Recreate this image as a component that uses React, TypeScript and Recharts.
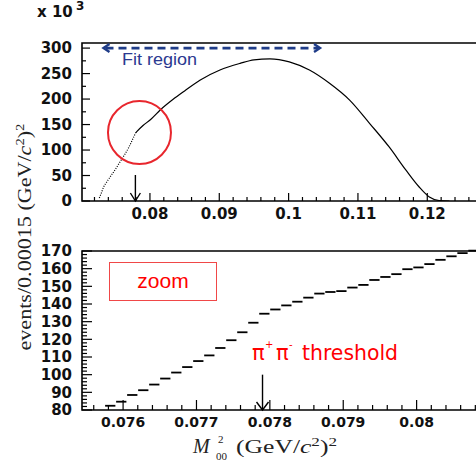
import React from 'react';
import {
  ComposedChart,
  Line,
  Scatter,
  ErrorBar,
  XAxis,
  YAxis,
  ReferenceArea,
  ReferenceLine,
  ReferenceDot,
} from 'recharts';

// upper panel: full spectrum, counts in units of 10^3
const belowThresholdX = [0.0727, 0.073, 0.0733, 0.0738, 0.0743, 0.075, 0.0757, 0.0763, 0.0769, 0.0774, 0.0779];
const belowThresholdY = [6, 16, 27, 38, 48, 62, 77, 90, 104, 118, 133];

const aboveThresholdX = [
  0.0779, 0.0781, 0.079, 0.0801, 0.0816, 0.0833, 0.085, 0.0872, 0.0901, 0.093, 0.095, 0.0973,
  0.1001, 0.103, 0.1059, 0.1088, 0.1117, 0.1145, 0.1169, 0.1188, 0.1203, 0.1217, 0.1232,
];
const aboveThresholdY = [
  133, 136, 148, 160, 180, 199, 216, 237, 257, 270, 277, 279,
  273, 257, 231, 198, 152, 106, 61, 28, 8, 1, 0,
];

// lower panel: zoomed histogram bins
const zoomBinCenters = [
  0.075825, 0.075975, 0.076125, 0.076275, 0.076425, 0.076575, 0.076725, 0.076875, 0.077025,
  0.077175, 0.077325, 0.077475, 0.077625, 0.077775, 0.077925, 0.078075, 0.078225, 0.078375,
  0.078525, 0.078675, 0.078825, 0.078975, 0.079125, 0.079275, 0.079425, 0.079575, 0.079725,
  0.079875, 0.080025, 0.080175, 0.080325, 0.080475, 0.080625, 0.080775,
];
const zoomCounts = [
  82.4, 84.7, 88.5, 91.2, 94.4, 97.8, 101.2, 104.3, 107.7,
  110.9, 115.1, 119.5, 124.0, 129.4, 134.5, 136.9, 139.2, 141.3,
  143.6, 145.9, 146.8, 147.3, 149.3, 150.8, 153.6, 155.3, 156.9,
  159.7, 160.7, 162.6, 165.0, 167.0, 168.8, 170.2,
];
const BIN_HALF = 0.00007;

const THRESHOLD = 0.0779;

const topXMajor = [0.08, 0.09, 0.1, 0.11, 0.12];
const topYMajor = [0, 50, 100, 150, 200, 250, 300];
const bottomXMajor = [0.076, 0.077, 0.078, 0.079, 0.08];
const bottomYMajor = [80, 90, 100, 110, 120, 130, 140, 150, 160, 170];

const steps = (from: number, to: number, step: number) => {
  const out: number[] = [];
  for (let i = 0; from + i * step <= to + step / 1000; i++) out.push(+(from + i * step).toFixed(6));
  return out;
};
const topXTicks = steps(0.072, 0.128, 0.002);
const topYTicks = steps(0, 300, 25);
const bottomXTicks = steps(0.0756, 0.0808, 0.0002);
const bottomYTicks = steps(80, 170, 2);

const belowData = belowThresholdX.map((x, i) => ({ x, y: belowThresholdY[i] }));
const aboveData = aboveThresholdX.map((x, i) => ({ x, y: aboveThresholdY[i] }));
const zoomData = zoomBinCenters.map((x, i) => ({ x, y: zoomCounts[i], ex: BIN_HALF }));

const LABEL_FONT = '"DejaVu Sans", Arial, sans-serif';

const isMajor = (majors: number[], v: number) => majors.some((m) => Math.abs(m - v) < 1e-9);

const xTick = (majors: number[], majorLen: number, minorLen: number, fontSize: number) => (props: any) => {
  const { x, y, payload } = props;
  const major = isMajor(majors, payload.value);
  return (
    <g>
      <line x1={x} x2={x} y1={y} y2={y - (major ? majorLen : minorLen)} stroke="#000" strokeWidth={1.2} />
      {major && (
        <text x={x} y={y + 7 + fontSize * 0.73} textAnchor="middle" fontFamily={LABEL_FONT} fontWeight="bold" fontSize={fontSize} fill="#111">
          {String(payload.value)}
        </text>
      )}
    </g>
  );
};

const yTick = (majors: number[], majorLen: number, minorLen: number, fontSize: number) => (props: any) => {
  const { x, y, payload } = props;
  const major = isMajor(majors, payload.value);
  return (
    <g>
      <line x1={x} x2={x + (major ? majorLen : minorLen)} y1={y} y2={y} stroke="#000" strokeWidth={1.2} />
      {major && (
        <text x={x - 10} y={y + fontSize * 0.36} textAnchor="end" fontFamily={LABEL_FONT} fontWeight="bold" fontSize={fontSize} fill="#111">
          {String(payload.value)}
        </text>
      )}
    </g>
  );
};

const downArrow = (color: string, half: number, head: number) => (p: any) => (
  <g>
    <line x1={p.x1} y1={p.y1} x2={p.x2} y2={p.y2} stroke={color} strokeWidth={1.4} />
    <polyline
      points={`${p.x2 - half},${p.y2 - head} ${p.x2},${p.y2} ${p.x2 + half},${p.y2 - head}`}
      fill="none"
      stroke={color}
      strokeWidth={1.4}
    />
  </g>
);

const fitArrow = (p: any) => {
  const c = '#1f3c88';
  return (
    <g>
      <line x1={p.x1 + 2} y1={p.y1} x2={p.x2 - 2} y2={p.y2} stroke={c} strokeWidth={2.6} strokeDasharray="8 5" />
      <polyline points={`${p.x1 + 6},${p.y1 - 4} ${p.x1},${p.y1} ${p.x1 + 6},${p.y1 + 4}`} fill="none" stroke={c} strokeWidth={2.4} />
      <polyline points={`${p.x2 - 6},${p.y2 - 4} ${p.x2},${p.y2} ${p.x2 - 6},${p.y2 + 4}`} fill="none" stroke={c} strokeWidth={2.4} />
    </g>
  );
};

function TopPanel() {
  return (
    <ComposedChart width={498} height={231} margin={{ top: 43, right: 0, bottom: 0, left: 0 }}>
      <XAxis
        type="number"
        dataKey="x"
        domain={[0.0702, 0.1302]}
        allowDataOverflow
        ticks={topXTicks}
        interval={0}
        tickSize={0}
        tickMargin={0}
        tickLine={false}
        axisLine={false}
        height={30}
        tick={xTick(topXMajor, 8, 4, 15)}
      />
      <YAxis
        type="number"
        domain={[0, 310]}
        allowDataOverflow
        ticks={topYTicks}
        interval={0}
        tickSize={0}
        tickMargin={0}
        tickLine={false}
        axisLine={false}
        width={82}
        tick={yTick(topYMajor, 8, 4, 15)}
      />
      <ReferenceArea x1={0.0702} x2={0.1302} y1={0} y2={310} fill="none" stroke="#000" strokeWidth={1.6} />
      <Line data={belowData} dataKey="y" type="monotone" dot={false} stroke="#000" strokeWidth={1.2} strokeDasharray="1 1.4" isAnimationActive={false} />
      <Line data={aboveData} dataKey="y" type="monotone" dot={false} stroke="#000" strokeWidth={1.2} isAnimationActive={false} />
      <ReferenceLine segment={[{ x: 0.0733, y: 300 }, { x: 0.10453, y: 300 }]} shape={fitArrow} />
      <ReferenceLine segment={[{ x: THRESHOLD, y: 51 }, { x: THRESHOLD, y: 0 }]} shape={downArrow('#000', 5, 8)} />
      <ReferenceDot x={0.07849} y={134.4} r={31.5} fill="none" stroke="#e8262d" strokeWidth={2} />
    </ComposedChart>
  );
}

function BottomPanel() {
  return (
    <ComposedChart width={490} height={470} margin={{ top: 251, right: 0, bottom: 20, left: 0 }}>
      <XAxis
        type="number"
        dataKey="x"
        domain={[0.07544, 0.081]}
        allowDataOverflow
        ticks={bottomXTicks}
        interval={0}
        tickSize={0}
        tickMargin={0}
        tickLine={false}
        axisLine={false}
        height={40}
        tick={xTick(bottomXMajor, 10, 5, 14)}
      />
      <YAxis
        type="number"
        dataKey="y"
        domain={[80, 170]}
        allowDataOverflow
        ticks={bottomYTicks}
        interval={0}
        tickSize={0}
        tickMargin={0}
        tickLine={false}
        axisLine={false}
        width={82}
        tick={yTick(bottomYMajor, 10, 5, 15)}
      />
      <ReferenceArea x1={0.07544} x2={0.081} y1={80} y2={170} fill="none" stroke="#000" strokeWidth={1.6} />
      <Scatter data={zoomData} dataKey="y" shape={() => <g />} isAnimationActive={false}>
        <ErrorBar dataKey="ex" direction="x" width={0} stroke="#000" strokeWidth={1.8} />
      </Scatter>
      <ReferenceLine segment={[{ x: THRESHOLD, y: 100 }, { x: THRESHOLD, y: 80 }]} shape={downArrow('#000', 6, 8)} />
    </ComposedChart>
  );
}

export default function App() {
  return (
    <div style={{ position: 'fixed', left: 0, top: 0, width: 476, height: 470, overflow: 'hidden', background: '#fff' }}>
      <div style={{ position: 'absolute', left: 0, top: 0 }}>
        <TopPanel />
      </div>
      <div style={{ position: 'absolute', left: 0, top: 0 }}>
        <BottomPanel />
      </div>
      <svg width={476} height={470} style={{ position: 'absolute', left: 0, top: 0, pointerEvents: 'none' }}>
        <text x={37} y={17} fontFamily={LABEL_FONT} fontWeight="bold" fontSize={15} fill="#111">x 10</text>
        <text x={76} y={10} fontFamily={LABEL_FONT} fontWeight="bold" fontSize={12} fill="#111">3</text>

        <text x={122} y={64.5} fontFamily='"Liberation Sans", Arial, sans-serif' fontSize={17} fill="#2b3990" textLength={75} lengthAdjust="spacingAndGlyphs">
          Fit region
        </text>

        <rect x={109.5} y={262.5} width={107} height={38} fill="none" stroke="#f04848" strokeWidth={1} />
        <text x={163} y={288} textAnchor="middle" fontFamily='"Liberation Sans", Arial, sans-serif' fontSize={21} fill="#ff0000">zoom</text>

        <g fill="#ff0000" fontFamily='"DejaVu Sans", sans-serif'>
          <text x={252} y={360} fontSize={21}>π</text>
          <text x={265} y={348} fontSize={10}>+</text>
          <text x={276} y={360} fontSize={21}>π</text>
          <text x={289} y={348} fontSize={10}>-</text>
          <text x={302} y={360} fontSize={22} textLength={96} lengthAdjust="spacingAndGlyphs">threshold</text>
        </g>

        <text
          transform="translate(31,237) rotate(-90)"
          textAnchor="middle"
          fontFamily='"Liberation Serif", "DejaVu Serif", serif'
          fontSize={18}
          fill="#222"
          textLength={227}
          lengthAdjust="spacingAndGlyphs"
        >
          events/0.00015 (GeV/<tspan fontStyle="italic">c</tspan>
          <tspan fontSize={12} dy={-7}>2</tspan>
          <tspan dy={7}>)</tspan>
          <tspan fontSize={12} dy={-7}>2</tspan>
        </text>

        <g fontFamily='"Liberation Serif", "DejaVu Serif", serif' fill="#222">
          <text x={193} y={453} fontSize={20} fontStyle="italic">M</text>
          <text x={218} y={443} fontSize={11}>2</text>
          <text x={216} y={460} fontSize={11}>00</text>
          <text x={236} y={453} fontSize={18} textLength={101} lengthAdjust="spacingAndGlyphs">
            (GeV/<tspan fontStyle="italic">c</tspan>
            <tspan fontSize={12} dy={-7}>2</tspan>
            <tspan dy={7}>)</tspan>
            <tspan fontSize={12} dy={-7}>2</tspan>
          </text>
        </g>
      </svg>
    </div>
  );
}
